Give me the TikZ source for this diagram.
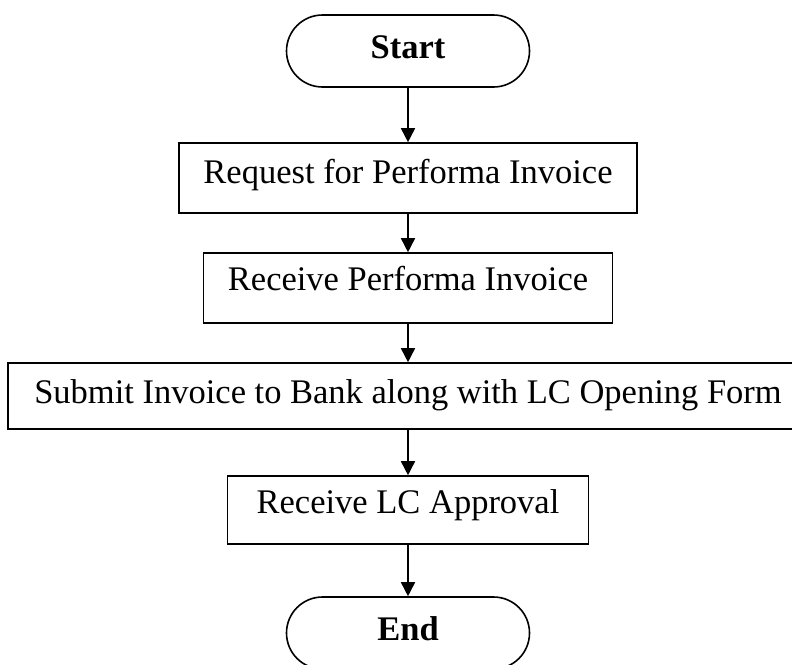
\documentclass[tikz,border=0pt]{standalone}
\usepackage{fontspec}
\setmainfont{Liberation Serif}
\usetikzlibrary{positioning, arrows.meta}

\begin{document}
\begin{tikzpicture}[x=1pt, y=-1pt, on grid, ->, >={Triangle[length=14pt, width=14pt]}, line width=1.6pt,
    proc/.style={draw, rectangle, inner xsep=0pt, inner ysep=0pt, font=\fontsize{34.5}{40}\selectfont},
    term/.style={proc, rounded corners=36pt, font=\fontsize{34.5}{40}\selectfont\bfseries,
      minimum width=243pt, text height=43pt, text depth=29pt}]
      \clip (0,0) rectangle (792,664);
      \node[term] (start) at (408,51) {Start};
      \node[proc, minimum width=458pt, text height=40pt, text depth=30pt, below=127pt of start] (request) {Request for Performa Invoice};
      \node[proc, minimum width=409pt, text height=37pt, text depth=33pt, below=110pt of request] (receive) {Receive Performa Invoice};
      \node[proc, minimum width=800pt, text height=40pt, text depth=26pt, below=108pt of receive] (submit) {Submit Invoice to Bank along with LC Opening Form};
      \node[proc, minimum width=361pt, text height=37pt, text depth=31pt, below=114pt of submit] (approval) {Receive LC Approval};
      \node[term, below=123pt of approval] (end) {End};
      \draw (start) -- (request);
      \draw (request) -- (receive);
      \draw (receive) -- (submit);
      \draw (submit) -- (approval);
      \draw (approval) -- (end);
    \end{tikzpicture}
\end{document}
